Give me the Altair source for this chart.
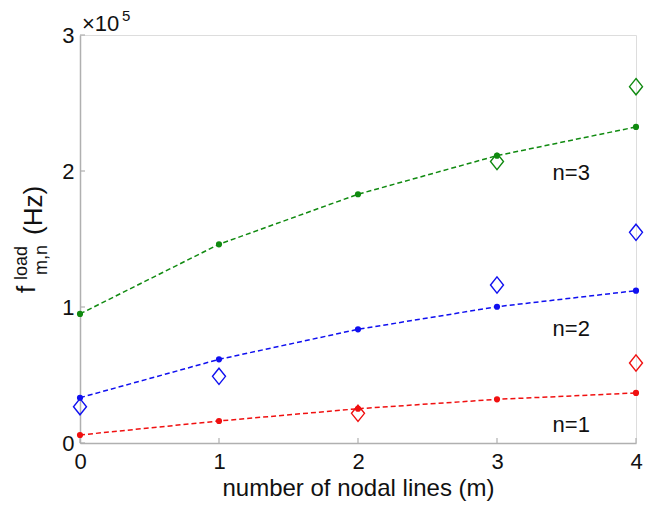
import altair as alt
import pandas as pd

m_vals = [0, 1, 2, 3, 4]
fit_n1 = [5900, 16200, 25200, 32100, 36800]
fit_n2 = [33300, 61500, 83600, 100200, 112000]
fit_n3 = [94900, 146100, 182900, 211300, 232400]

meas_m_n1 = [2, 4]
meas_n1 = [21800, 58800]
meas_m_n2 = [0, 1, 3, 4]
meas_n2 = [26700, 49000, 116200, 154900]
meas_m_n3 = [3, 4]
meas_n3 = [207000, 262000]

label_text = ["n=1", "n=2", "n=3"]
label_m = [3.4, 3.4, 3.4]
label_f = [13000, 84000, 198500]

x_ticks = [0, 1, 2, 3, 4]
y_ticks = [0, 100000, 200000, 300000]

series = ["n=1", "n=2", "n=3"]
colors = ["#f01010", "#1010f0", "#108a10"]

fit_rows = []
for s, vals in zip(series, [fit_n1, fit_n2, fit_n3]):
    for m, f in zip(m_vals, vals):
        fit_rows.append({"m": m, "f": f, "n": s})
fit_df = pd.DataFrame(fit_rows)

meas_rows = []
for s, ms, vals in zip(series, [meas_m_n1, meas_m_n2, meas_m_n3], [meas_n1, meas_n2, meas_n3]):
    for m, f in zip(ms, vals):
        meas_rows.append({"m": m, "f": f, "n": s})
meas_df = pd.DataFrame(meas_rows)

lab_df = pd.DataFrame({"m": label_m, "f": label_f, "t": label_text})

W, H = 556, 408
FONT = "Liberation Sans"
AXC = "#b0b0b0"

xs = alt.Scale(domain=[0, 4], nice=False)
ys = alt.Scale(domain=[0, 300000], nice=False)
cs = alt.Scale(domain=series, range=colors)

xaxis = alt.Axis(values=x_ticks, format="d", title="number of nodal lines (m)", ticks=False,
                 domainColor=AXC, domainWidth=1.5, labelFontSize=22, labelFont=FONT,
                 labelColor="#111", labelPadding=8, labelFlush=False, labelOverlap=False,
                 titleFontSize=24, titleFont=FONT,
                 titleFontWeight="normal", titleColor="#111", titlePadding=4, grid=False)
yaxis = alt.Axis(values=y_ticks, title=None, ticks=False, labelExpr="datum.value/100000",
                 domainColor=AXC, domainWidth=1.5, labelFontSize=22, labelFont=FONT,
                 labelColor="#111", labelPadding=6, labelFlush=False, labelOverlap=False,
                 grid=False)

base = alt.Chart(fit_df)

lines = base.mark_line(strokeDash=[5, 3], strokeWidth=1.5).encode(
    x=alt.X("m:Q", scale=xs, axis=xaxis),
    y=alt.Y("f:Q", scale=ys, axis=yaxis),
    color=alt.Color("n:N", scale=cs, legend=None),
)
dots = base.mark_circle(size=38, opacity=1).encode(
    x=alt.X("m:Q", scale=xs), y=alt.Y("f:Q", scale=ys),
    color=alt.Color("n:N", scale=cs, legend=None),
)
diamonds = alt.Chart(meas_df).mark_point(
    shape="M0,-1L0.8,0L0,1L-0.8,0Z", size=264, filled=False, strokeWidth=1.4, opacity=1
).encode(
    x=alt.X("m:Q", scale=xs), y=alt.Y("f:Q", scale=ys),
    color=alt.Color("n:N", scale=cs, legend=None),
)
labels = alt.Chart(lab_df).mark_text(align="left", baseline="middle", fontSize=22,
                                     font=FONT, color="#111").encode(
    x=alt.X("m:Q", scale=xs), y=alt.Y("f:Q", scale=ys), text="t:N")

xt = alt.Chart(pd.DataFrame({"v": x_ticks})).mark_rule(color=AXC, strokeWidth=1.2).encode(
    x=alt.X("v:Q", scale=xs), y=alt.value(H), y2=alt.value(H - 5))
yt = alt.Chart(pd.DataFrame({"v": y_ticks})).mark_rule(color=AXC, strokeWidth=1.2).encode(
    y=alt.Y("v:Q", scale=ys), x=alt.value(0), x2=alt.value(5))

ann_df = pd.DataFrame({"k": [0]})
def txt(t, x, y, size, angle=0, align="left", baseline="alphabetic"):
    return alt.Chart(ann_df).mark_text(text=t, fontSize=size, font=FONT, color="#111",
                                       angle=angle, align=align, baseline=baseline).encode(
        x=alt.value(x), y=alt.value(y))

ann = [
    txt("×10", 2, -4, 22),
    txt("5", 42, -14, 15),
    txt("f", -45.5, 258, 26, angle=270),
    txt("load", -53, 245, 18, angle=270),
    txt("m,n", -33, 240, 18, angle=270),
    txt("(Hz)", -38.5, 200, 26, angle=270),
]

chart = alt.layer(lines, dots, diamonds, labels, xt, yt, *ann).properties(
    width=W, height=H,
    autosize=alt.AutoSizeParams(type="none"),
    padding={"left": 72, "top": 27, "right": 11, "bottom": 62},
).configure_view(stroke=None).configure(background="white")

chart.save("out.html", embed_options={"renderer": "svg", "actions": False})
